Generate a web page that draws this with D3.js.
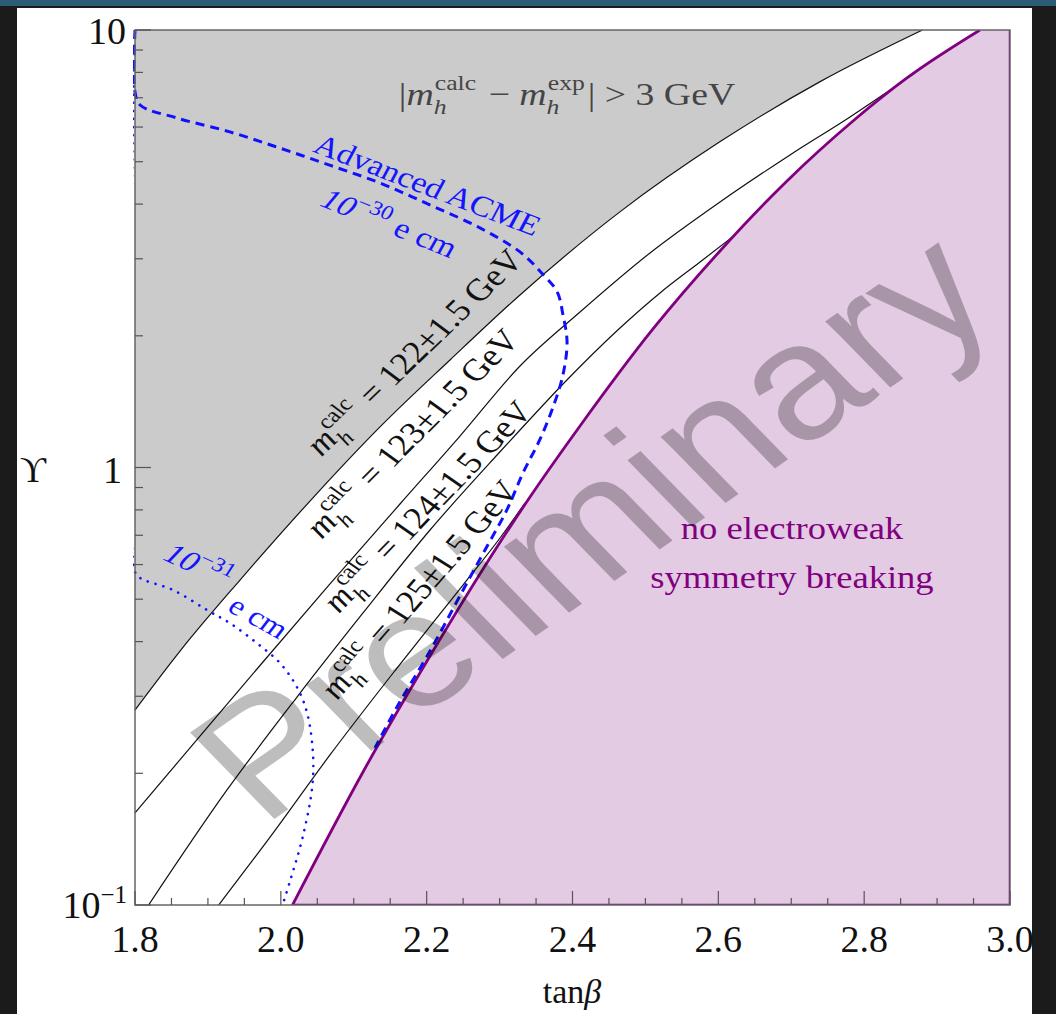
<!DOCTYPE html>
<html>
<head>
<meta charset="utf-8">
<script src="https://cdn.jsdelivr.net/npm/d3@7"></script>
<style>
  html, body { margin: 0; padding: 0; background: #1b1b1b; }
  svg { display: block; }
  text { font-family: "Liberation Serif", "Times New Roman", serif; }
</style>
</head>
<body>
<script>
"use strict";

// --- data: [tanBeta, Upsilon] ---

const line122 = [[1.8,0.279],[1.862,0.381],[1.944,0.553],[2.05,0.874],[2.136,1.238],[2.232,1.761],
  [2.328,2.48],[2.465,3.84],[2.602,5.55],[2.739,7.61],[2.88,10]]
const line123 = [[1.8,0.1623],[1.8891,0.2433],[1.9755,0.3593],[2.0674,0.5417],[2.1634,0.8253],[2.2457,1.18],
  [2.328,1.706],[2.4103,2.267],[2.5063,3.093],[2.6023,4.045],[2.6983,5.18],[2.7806,6.326],[2.8697,7.975]]
const line124 = [[1.8178,0.0995],[1.9262,0.1832],[2.0222,0.2988],[2.1127,0.465],[2.2046,0.7197],[2.2965,1.068],
  [2.328,1.218],[2.387,1.552],[2.4651,2.084],[2.52,2.506],[2.5749,2.949],[2.6228,3.40]]
const line125 = [[1.9138,0.0995],[1.9893,0.146],[2.0674,0.2203],[2.1593,0.348],[2.2498,0.5387],
  [2.3006,0.69],[2.3349,0.83]]
const ewsbEdge = [[2.0153,0.0995],[2.1127,0.2014],[2.2046,0.3708],[2.2965,0.658],[2.3417,0.856],[2.4103,1.244],
  [2.5104,2.073],[2.6023,3.126],[2.6942,4.518],[2.7847,6.194],[2.8587,7.77],[2.9588,10]]
const acme30 = [[1.8,10],[1.8,7.22],[1.807,6.74],[1.858,6.29],[1.93,5.85],[1.999,5.37],[2.067,4.91],
  [2.136,4.47],[2.205,3.98],[2.273,3.53],[2.328,3.11],[2.358,2.78],[2.379,2.52],[2.387,2.23],
  [2.3925,1.94],[2.387,1.63],[2.373,1.37],[2.355,1.156],[2.332,0.971],[2.31,0.8],[2.28,0.648],
  [2.25,0.525],[2.2046,0.3806],[2.1593,0.2836],[2.1291,0.2285]]
const acme31 = [[1.8,10],[1.8,0.577],[1.807,0.559],[1.852,0.525],[1.899,0.472],[1.93,0.441],[1.967,0.397],
  [1.999,0.357],[2.022,0.315],[2.036,0.275],[2.044,0.2226],[2.043,0.186],[2.03,0.143],[2.013,0.114],[2.002,0.0995]]

const xTicks = [1.8, 2.0, 2.2, 2.4, 2.6, 2.8, 3.0]
const xTickLabels = ["1.8", "2.0", "2.2", "2.4", "2.6", "2.8", "3.0"]
const yTicks = [0.1, 1, 10]

// --- layout ---

const W = 1056, H = 1014
const plot = { left: 135, right: 1010, top: 30, bottom: 905 }
const STRETCH = 1.18 // the annotations in the picture are a bit wide

const x = d3.scaleLinear().domain([1.8, 3.0]).range([plot.left, plot.right])
const y = d3.scaleLog().domain([0.1, 10]).range([plot.bottom, plot.top])

const svg = d3.select("body").append("svg").attr("width", W).attr("height", H)

// slide background
svg.append("rect").attr("width", W).attr("height", H).attr("fill", "#1b1b1b")
svg.append("rect").attr("width", W).attr("height", 6).attr("fill", "#3a8fbf").attr("opacity", 0.55)
svg.append("rect").attr("x", 17).attr("y", 8).attr("width", 1015).attr("height", H - 8).attr("fill", "#fff")

svg.append("clipPath").attr("id", "plotClip").append("rect")
  .attr("x", plot.left - 2).attr("y", plot.top)
  .attr("width", plot.right - plot.left + 2).attr("height", plot.bottom - plot.top)

const g = svg.append("g").attr("clip-path", "url(#plotClip)")
const smooth = d3.line().x(d => x(d[0])).y(d => y(d[1])).curve(d3.curveMonotoneX)
const curve = d3.line().x(d => x(d[0])).y(d => y(d[1])).curve(d3.curveCatmullRom.alpha(0.5))

// excluded by the Higgs mass: above the 122 line
g.append("path").attr("d", smooth(line122) + `L${x(1.8)},${y(10)}Z`).attr("fill", "#cbcbcb")

// no EWSB region
g.append("path")
  .attr("d", smooth(ewsbEdge) + `L${x(3.0)},${y(10)}L${x(3.0)},${y(0.1)}L${x(ewsbEdge[0][0])},${y(0.1)}Z`)
  .attr("fill", "#e3cbe3")

// frame
svg.append("rect")
  .attr("x", plot.left).attr("y", plot.top)
  .attr("width", plot.right - plot.left).attr("height", plot.bottom - plot.top)
  .attr("fill", "none").attr("stroke", "#666").attr("stroke-width", 1.5)

// purple edge along the bottom / right under the region
g.append("path")
  .attr("d", `M${x(ewsbEdge[0][0])},${y(0.1)}L${x(3.0)},${y(0.1)}L${x(3.0)},${y(10)}`)
  .attr("fill", "none").attr("stroke", "#800080").attr("stroke-width", 2.5)

// ticks
const ticks = svg.append("g").attr("stroke", "#555").attr("stroke-width", 1.2)
d3.range(1.8, 3.0001, 0.05).forEach(v => {
  const major = xTicks.some(t => Math.abs(t - v) < 1e-6)
  ticks.append("line").attr("x1", x(v)).attr("x2", x(v))
    .attr("y1", plot.bottom).attr("y2", plot.bottom - (major ? 14 : 7))
})
y.ticks().forEach(v => {
  const major = yTicks.some(t => Math.abs(t - v) < 1e-9)
  ticks.append("line").attr("y1", y(v)).attr("y2", y(v))
    .attr("x1", plot.left).attr("x2", plot.left + (major ? 16 : 8))
})

// contours of m_h
;[line122, line123, line124, line125].forEach(d => {
  g.append("path").attr("d", smooth(d)).attr("fill", "none").attr("stroke", "#111").attr("stroke-width", 1.2)
})
g.append("path").attr("d", smooth(ewsbEdge)).attr("fill", "none").attr("stroke", "#800080").attr("stroke-width", 2.8)

// EDM reach
g.append("path").attr("d", curve(acme30)).attr("fill", "none").attr("stroke", "#1010ff")
  .attr("stroke-width", 3).attr("stroke-dasharray", "9,6")
g.append("path").attr("d", curve(acme31)).attr("fill", "none").attr("stroke", "#1010ff")
  .attr("stroke-width", 2.6).attr("stroke-dasharray", "0.1,8").attr("stroke-linecap", "round")

// --- annotations ---

function mathLabel (cx, cy, visAngle, size, color, pieces) {
  const phi = Math.atan(STRETCH * Math.tan(visAngle * Math.PI / 180)) * 180 / Math.PI
  const grp = svg.append("g")
    .attr("transform", `translate(${cx},${cy}) scale(${STRETCH},1) rotate(${-phi})`)
  const inner = grp.append("g").attr("fill", color)
  let cur = 0
  const put = (t, px, py, fs, italic) => {
    const e = inner.append("text").attr("x", px).attr("y", py).attr("font-size", fs)
      .attr("xml:space", "preserve").style("white-space", "pre").text(t)
    if (italic) e.attr("font-style", "italic")
    return e.node().getComputedTextLength()
  }
  pieces.forEach(p => {
    if (p.base) {
      cur += put(p.base, cur, 0, size, true)
      let w = 0
      if (p.sup) w = Math.max(w, put(p.sup, cur + 1, -0.45 * size, 0.68 * size, false) + 1)
      if (p.sub) w = Math.max(w, put(p.sub, cur, 0.3 * size, 0.68 * size, true))
      cur += w + 0.08 * size
    } else if (p.sup) {
      cur += put(p.t, cur, -0.4 * size, 0.7 * size, false)
    } else {
      cur += put(p.t, cur, 0, size, p.italic)
    }
  })
  inner.attr("transform", `translate(${-cur / 2},${0.3 * size})`)
}

const mh = (sup) => ({ base: "m", sub: "h", sup: sup })

mathLabel(567, 95, 0, 32, "#454545",
  [{ t: "|" }, mh("calc"), { t: " − " }, mh("exp"), { t: "| > 3 GeV" }])

mathLabel(415, 353, 44, 31, "#111", [mh("calc"), { t: " = 122±1.5 GeV" }])
mathLabel(413, 434, 45, 31, "#111", [mh("calc"), { t: " = 123±1.5 GeV" }])
mathLabel(428, 507, 46, 31, "#111", [mh("calc"), { t: " = 124±1.5 GeV" }])
mathLabel(420, 590, 49, 31, "#111", [mh("calc"), { t: " = 125±1.5 GeV" }])

mathLabel(427, 186, -21, 29, "#1414ff", [{ t: "Advanced ACME" }])
mathLabel(389, 224, -22, 29, "#1414ff", [{ t: "10", italic: true }, { t: "−30", sup: true }, { t: " e cm" }])
mathLabel(198, 566, -25, 29, "#1414ff", [{ t: "10", italic: true }, { t: "−31", sup: true }])
mathLabel(258, 618, -29, 28, "#1414ff", [{ t: "e cm" }])

mathLabel(792, 530, 0, 31, "#800080", [{ t: "no electroweak" }])
mathLabel(792, 579, 0, 31, "#800080", [{ t: "symmetry breaking" }])

// watermark
{
  const phi = Math.atan(STRETCH * Math.tan(35 * Math.PI / 180)) * 180 / Math.PI
  svg.append("g")
    .attr("transform", `translate(590,524) scale(${STRETCH},1) rotate(${-phi})`)
    .append("text")
    .attr("text-anchor", "middle").attr("dy", "0.35em")
    .style("font-family", "'Liberation Sans', Arial, sans-serif")
    .attr("font-size", 163).attr("fill", "#000").attr("fill-opacity", 0.26)
    .text("Preliminary")
}

// --- axis labels ---

const labels = svg.append("g").attr("fill", "#111")
xTicks.forEach((v, i) => {
  labels.append("text").attr("x", x(v)).attr("y", 952).attr("text-anchor", "middle")
    .attr("font-size", 38).text(xTickLabels[i])
})
labels.append("text").attr("x", 126).attr("y", 44).attr("text-anchor", "end").attr("font-size", 38).text("10")
labels.append("text").attr("x", 122).attr("y", 483).attr("text-anchor", "end").attr("font-size", 38).text("1")
{
  const t = labels.append("text").attr("x", 127).attr("y", 918).attr("text-anchor", "end").attr("font-size", 38)
  t.append("tspan").text("10")
  t.append("tspan").attr("font-size", 25).attr("dy", -15).text("−1")
}
labels.append("text").attr("x", 20).attr("y", 482).attr("font-size", 36).text("ϒ")
{
  const t = labels.append("text").attr("x", 572).attr("y", 1003).attr("text-anchor", "middle").attr("font-size", 34)
  t.append("tspan").text("tan")
  t.append("tspan").attr("font-style", "italic").text("β")
}
</script>
</body>
</html>
